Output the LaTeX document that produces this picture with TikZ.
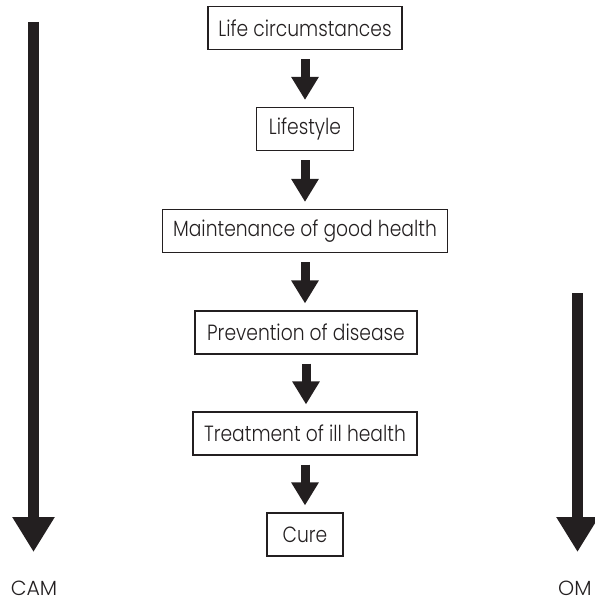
\documentclass[tikz,border=0pt]{standalone}
\usepackage{fontspec}
\setmainfont{Poppins}[UprightFont=* Light, FakeStretch=0.85]
\newfontfamily\sidefont{Poppins}[UprightFont=* Light]
\usetikzlibrary{arrows.meta}
\definecolor{ink}{RGB}{35,31,32}
\tikzset{
  stage/.style={draw=ink, line width=1.1pt, rectangle, minimum height=43pt,
    inner sep=0pt, text=ink, font=\fontsize{22}{26}\selectfont},
  flow/.style={draw=ink, line width=9pt,
    -{Triangle[width=26pt,length=23pt]}},
  axis/.style={draw=ink, line width=11pt,
    -{Triangle[width=40pt,length=35pt]}},
  axislabel/.style={text=ink, inner sep=0pt, font=\sidefont\fontsize{20.5}{24}\selectfont}
}
\begin{document}
\begin{tikzpicture}[x=1pt,y=-1pt]
\useasboundingbox (0,0) rectangle (594,601);

% central chain of stages
\node[stage, minimum width=194pt] (b1) at (305,28)    {Life circumstances};
\node[stage, minimum width=97pt]  (b2) at (305,129)   {Lifestyle};
\node[stage, minimum width=285pt] (b3) at (305,231)   {Maintenance of good health};
\node[stage, minimum width=222pt] (b4) at (306,332.5) {Prevention of disease};
\node[stage, minimum width=224pt] (b5) at (305,433.5) {Treatment of ill health};
\node[stage, minimum width=76pt]  (b6) at (305,534.5) {Cure};

\foreach \a/\b in {b1/b2,b2/b3,b3/b4,b4/b5,b5/b6}
  \draw[flow] ([yshift=-9pt]\a.south) -- ([yshift=7pt]\a.south |- \b.north);

% side axes
\node[axislabel] (cam) at (34,588.5) {CAM};
\node[axislabel, anchor=west] (om) at (558,588.5) {OM};
\coordinate (camtop) at (33.5,22);
\coordinate (camend) at (33.5,552);
\coordinate (omtop) at (577.5,293);
\coordinate (omend) at (577.5,552);
\draw[axis] (camtop) -- (camend);
\draw[axis] (omtop) -- (omend);
\end{tikzpicture}
\end{document}
